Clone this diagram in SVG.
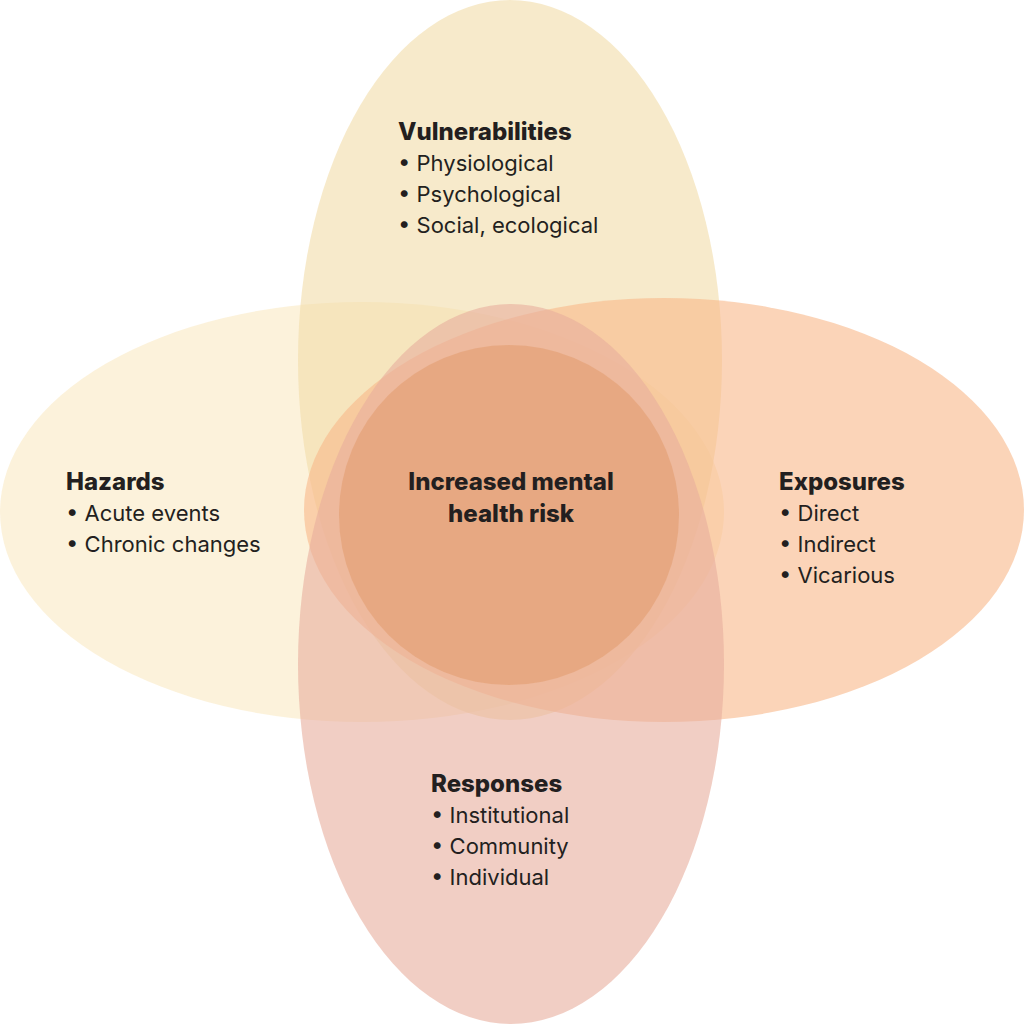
<svg xmlns="http://www.w3.org/2000/svg" width="1024" height="1024" viewBox="0 0 1024 1024">
<style>
.t{font-family:Inter,"Liberation Sans",sans-serif;font-size:24px;font-weight:800;fill:#231f20}
.i{font-family:Inter,"Liberation Sans",sans-serif;font-size:22px;fill:#231f20}
</style>
<rect width="1024" height="1024" fill="#fff"/>
<g id="hazards"><ellipse cx="362" cy="512" rx="362" ry="210" fill="#fbefd2" fill-opacity="0.8"/>
<text class="t" x="66" y="490">Hazards</text>
<text class="i" x="66" y="521">• Acute events</text>
<text class="i" x="66" y="552">• Chronic changes</text></g>
<g id="vulnerabilities"><ellipse cx="510" cy="360" rx="212" ry="360" fill="#f1dca8" fill-opacity="0.6"/>
<text class="t" x="398" y="140">Vulnerabilities</text>
<text class="i" x="398" y="171">• Physiological</text>
<text class="i" x="398" y="202">• Psychological</text>
<text class="i" x="398" y="233">• Social, ecological</text></g>
<g id="exposures"><ellipse cx="664" cy="510" rx="360" ry="212" fill="#f9b889" fill-opacity="0.6"/>
<text class="t" x="779" y="490">Exposures</text>
<text class="i" x="779" y="521">• Direct</text>
<text class="i" x="779" y="552">• Indirect</text>
<text class="i" x="779" y="583">• Vicarious</text></g>
<g id="responses"><ellipse cx="511" cy="664" rx="213" ry="360" fill="#e8ad9c" fill-opacity="0.6"/>
<text class="t" x="431" y="792">Responses</text>
<text class="i" x="431" y="823">• Institutional</text>
<text class="i" x="431" y="854">• Community</text>
<text class="i" x="431" y="885">• Individual</text></g>
<g id="center"><circle cx="509" cy="515" r="170" fill="#e29a6c" fill-opacity="0.55"/>
<text class="t" x="511" y="490" text-anchor="middle">Increased mental</text>
<text class="t" x="511" y="522" text-anchor="middle">health risk</text></g>
<g id="connectors"/>
</svg>
